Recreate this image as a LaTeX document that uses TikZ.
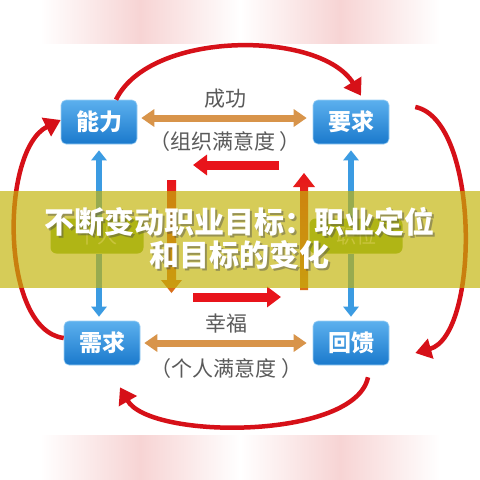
\documentclass[tikz,border=0pt]{standalone}
\usepackage{fontspec}
\newfontfamily\cjk{Noto Sans CJK SC}
\usetikzlibrary{positioning, arrows.meta, shapes.geometric}
\definecolor{boxtop}{RGB}{92,176,238}
\definecolor{boxbot}{RGB}{26,121,204}
\definecolor{arcred}{RGB}{214,16,24}
\definecolor{blockred}{RGB}{232,20,27}
\definecolor{barorange}{RGB}{217,112,26}
\definecolor{tanbar}{RGB}{216,148,74}
\definecolor{bluebar}{RGB}{59,155,226}
\definecolor{leaf}{RGB}{138,185,45}
\definecolor{leaftext}{RGB}{214,230,168}
\definecolor{band}{RGB}{195,180,10}
\definecolor{pinkband}{RGB}{247,212,212}
\definecolor{lbltext}{RGB}{90,90,90}

\begin{document}
\begin{tikzpicture}[x=1pt, y=-1pt,
    box/.style = {rectangle, rounded corners=5pt, draw=boxtop!60!white, line width=0.6pt,
      top color=boxtop, bottom color=boxbot, minimum width=76pt, minimum height=44pt,
      text=white, font=\cjk\bfseries\fontsize{23}{26}\selectfont},
    leafbox/.style = {rectangle, rounded corners=6pt, fill=leaf, minimum width=93pt,
      minimum height=35pt, text=leaftext, font=\cjk\fontsize{20}{24}\selectfont},
    lbl/.style = {inner sep=1pt, text=lbltext, font=\cjk\fontsize{21}{24}\selectfont},
    arc/.style = {draw=arcred, line width=4.5pt, -{Triangle[width=20pt,length=16pt]}},
    tanarrow/.style = {draw=tanbar, line width=7pt,
      {Triangle[width=17pt,length=13pt]}-{Triangle[width=17pt,length=13pt]},
      shorten <=4pt, shorten >=6pt},
    bluearrow/.style = {draw=bluebar, line width=6pt, -{Triangle[width=15pt,length=10pt]}},
    redarrow/.style = {draw=blockred, line width=9pt, -{Triangle[width=20pt,length=14pt]}},
  ]
\useasboundingbox (0,0) rectangle (480,480);
\fill[white] (0,0) rectangle (480,480);

\shade[left color=white, right color=white, middle color=pinkband] (40,0) rectangle (240,43);
\shade[left color=white, right color=white, middle color=pinkband] (240,0) rectangle (440,43);
\shade[left color=white, right color=white, middle color=pinkband] (40,435) rectangle (240,480);
\shade[left color=white, right color=white, middle color=pinkband] (240,435) rectangle (440,480);

\node[box] (ability) at (99,122) {能力};
\node[box] (req) at (351,122) {要求};
\node[box] (need) at (102,343) {需求};
\node[box] (feedback) at (351,343) {回馈};
\node[leafbox] (person) at (97,236) {个人};
\node[leafbox] (post) at (356,236) {职位};

\draw[tanarrow] ([yshift=4pt]ability.east) -- ([yshift=4pt]req.west)
    node[midway, lbl, above=5pt] {成功}
    node[midway, lbl, below=9pt] {（组织满意度 ）};
\draw[tanarrow] (need.east) -- (feedback.west)
    node[midway, lbl, above=5pt] {幸福}
    node[midway, lbl, below=11pt] {（个人满意度 ）};

\draw[bluearrow] (person.north -| ability.south) -- ([yshift=-6pt]ability.south);
\draw[bluearrow] (person.south -| ability.south) -- ([yshift=4pt]need.north -| ability.south);
\draw[bluearrow] (post.north -| req.south) -- ([yshift=-6pt]req.south);
\draw[bluearrow] (post.south -| req.south) -- ([yshift=4pt]feedback.north);

\coordinate (ra) at (279,165);
\coordinate (rb) at (193,165);
\coordinate (rc) at (193,297);
\coordinate (rd) at (281,297);
\draw[redarrow] (ra) -- (rb);
\draw[redarrow] (rc) -- (rd);
\shade[top color=blockred, bottom color=barorange]
    (167,180) -- (176,180) -- (176,280) -- (182,280) -- (171.5,293) -- (161,280) -- (167,280) -- cycle;
\shade[top color=blockred, bottom color=barorange]
    (300,290) -- (308,290) -- (308,187) -- (315,187) -- (304,173) -- (293,187) -- (300,187) -- cycle;

\draw[arc] ([xshift=17pt]ability.north) .. controls (150,30) and (320,30) .. ([xshift=10pt,yshift=4pt]req.north);
\draw[arc] ([xshift=26pt,yshift=15pt]req.east) .. controls (480,120) and (480,335) .. ([xshift=26pt,yshift=-10pt]feedback.east);
\draw[arc] ([xshift=17pt,yshift=-12pt]feedback.south) .. controls (355,440) and (150,440) .. ([xshift=18pt,yshift=-22pt]need.south);
\draw[arc] ([yshift=5pt]need.west) .. controls (0,330) and (0,150) .. ([yshift=2pt]ability.west);

\fill[band, fill opacity=0.68] (0,191) rectangle (480,288);
\node[text=black!70, opacity=0.45, align=center, font=\cjk\bfseries\fontsize{30}{33}\selectfont]
    (shadow) at (241.5,240) {不断变动职业目标：职业定位\\和目标的变化};
\node[text=white, align=center, font=\cjk\bfseries\fontsize{30}{33}\selectfont]
    (title) at (240,238.5) {不断变动职业目标：职业定位\\和目标的变化};
\end{tikzpicture}
\end{document}
